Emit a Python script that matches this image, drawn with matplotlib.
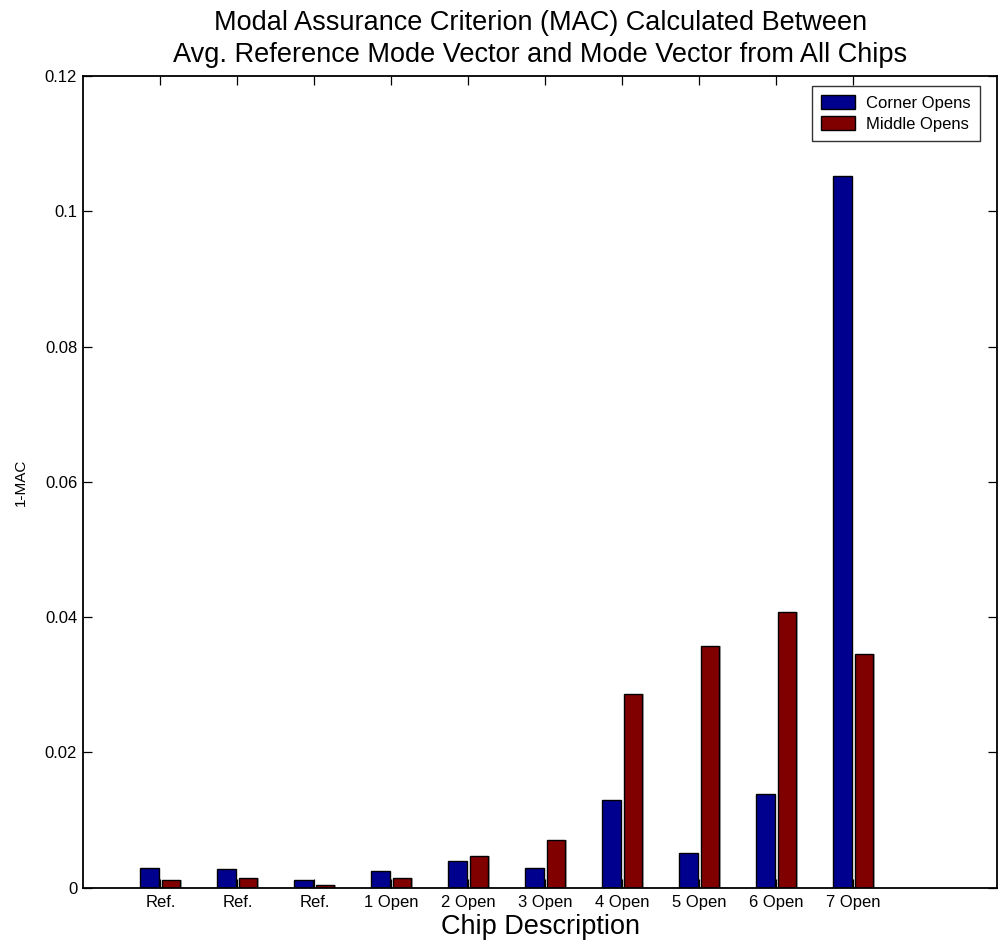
import matplotlib
matplotlib.use("Agg")
import matplotlib.pyplot as plt
import numpy as np

plt.rcParams['font.family'] = ['Liberation Sans', 'DejaVu Sans']

categories = ["Ref.", "Ref.", "Ref.", "1 Open", "2 Open", "3 Open",
              "4 Open", "5 Open", "6 Open", "7 Open"]
corner_opens = [0.0029, 0.0027, 0.0012, 0.0025, 0.0040, 0.0029,
                0.0129, 0.0051, 0.0138, 0.1052]
middle_opens = [0.0012, 0.0015, 0.0004, 0.0015, 0.0047, 0.0070,
                0.0286, 0.0357, 0.0408, 0.0345]
y_ticks = [0, 0.02, 0.04, 0.06, 0.08, 0.1, 0.12]
y_tick_labels = ["0", "0.02", "0.04", "0.06", "0.08", "0.1", "0.12"]

fig = plt.figure(figsize=(10.02, 9.48), dpi=100)
ax = fig.add_axes([0.0833, 0.0636, 0.9117, 0.8562])

x = np.arange(1, len(categories) + 1)
offset = 0.14
width = 0.24
shift = 0.02  # soft grey shadow to the right of each bar

for vals, dx in ((corner_opens, -offset), (middle_opens, offset)):
    ax.bar(x + dx + shift, vals, width, bottom=0, color="#b0b0b0",
           edgecolor="none", zorder=1)

ax.bar(x - offset, corner_opens, width, color="#00008F", edgecolor="black",
       linewidth=1.0, label="Corner Opens", zorder=2)
ax.bar(x + offset, middle_opens, width, color="#800000", edgecolor="black",
       linewidth=1.0, label="Middle Opens", zorder=2)

ax.set_xlim(0, 11.87)
ax.set_ylim(0, 0.12)
ax.set_xticks(x)
ax.set_xticklabels(categories, fontsize=12)
ax.set_yticks(y_ticks)
ax.set_yticklabels(y_tick_labels, fontsize=12)
ax.tick_params(direction="in", top=True, right=True, length=6.5, width=0.9)
ax.tick_params(axis="x", pad=5)
ax.tick_params(axis="y", pad=4.5)

for s in ax.spines.values():
    s.set_linewidth(1.3)
    s.set_zorder(3)

ax.set_xlabel("Chip Description", fontsize=19.5, labelpad=3)
ax.set_ylabel("1-MAC", fontsize=11, labelpad=12)
ax.set_title("Modal Assurance Criterion (MAC) Calculated Between\n"
             "Avg. Reference Mode Vector and Mode Vector from All Chips",
             fontsize=19.5, pad=10, linespacing=1.32)

leg = ax.legend(loc="upper right", bbox_to_anchor=(0.9814, 0.9877),
                fontsize=12, frameon=True, fancybox=False, edgecolor="black",
                handlelength=2.0, handleheight=0.9, borderaxespad=0,
                borderpad=0.55, labelspacing=0.3, handletextpad=0.7)
leg.get_frame().set_linewidth(1.0)
for h in leg.legend_handles:
    h.set_edgecolor("black")

fig.savefig("out.png", dpi=100)
